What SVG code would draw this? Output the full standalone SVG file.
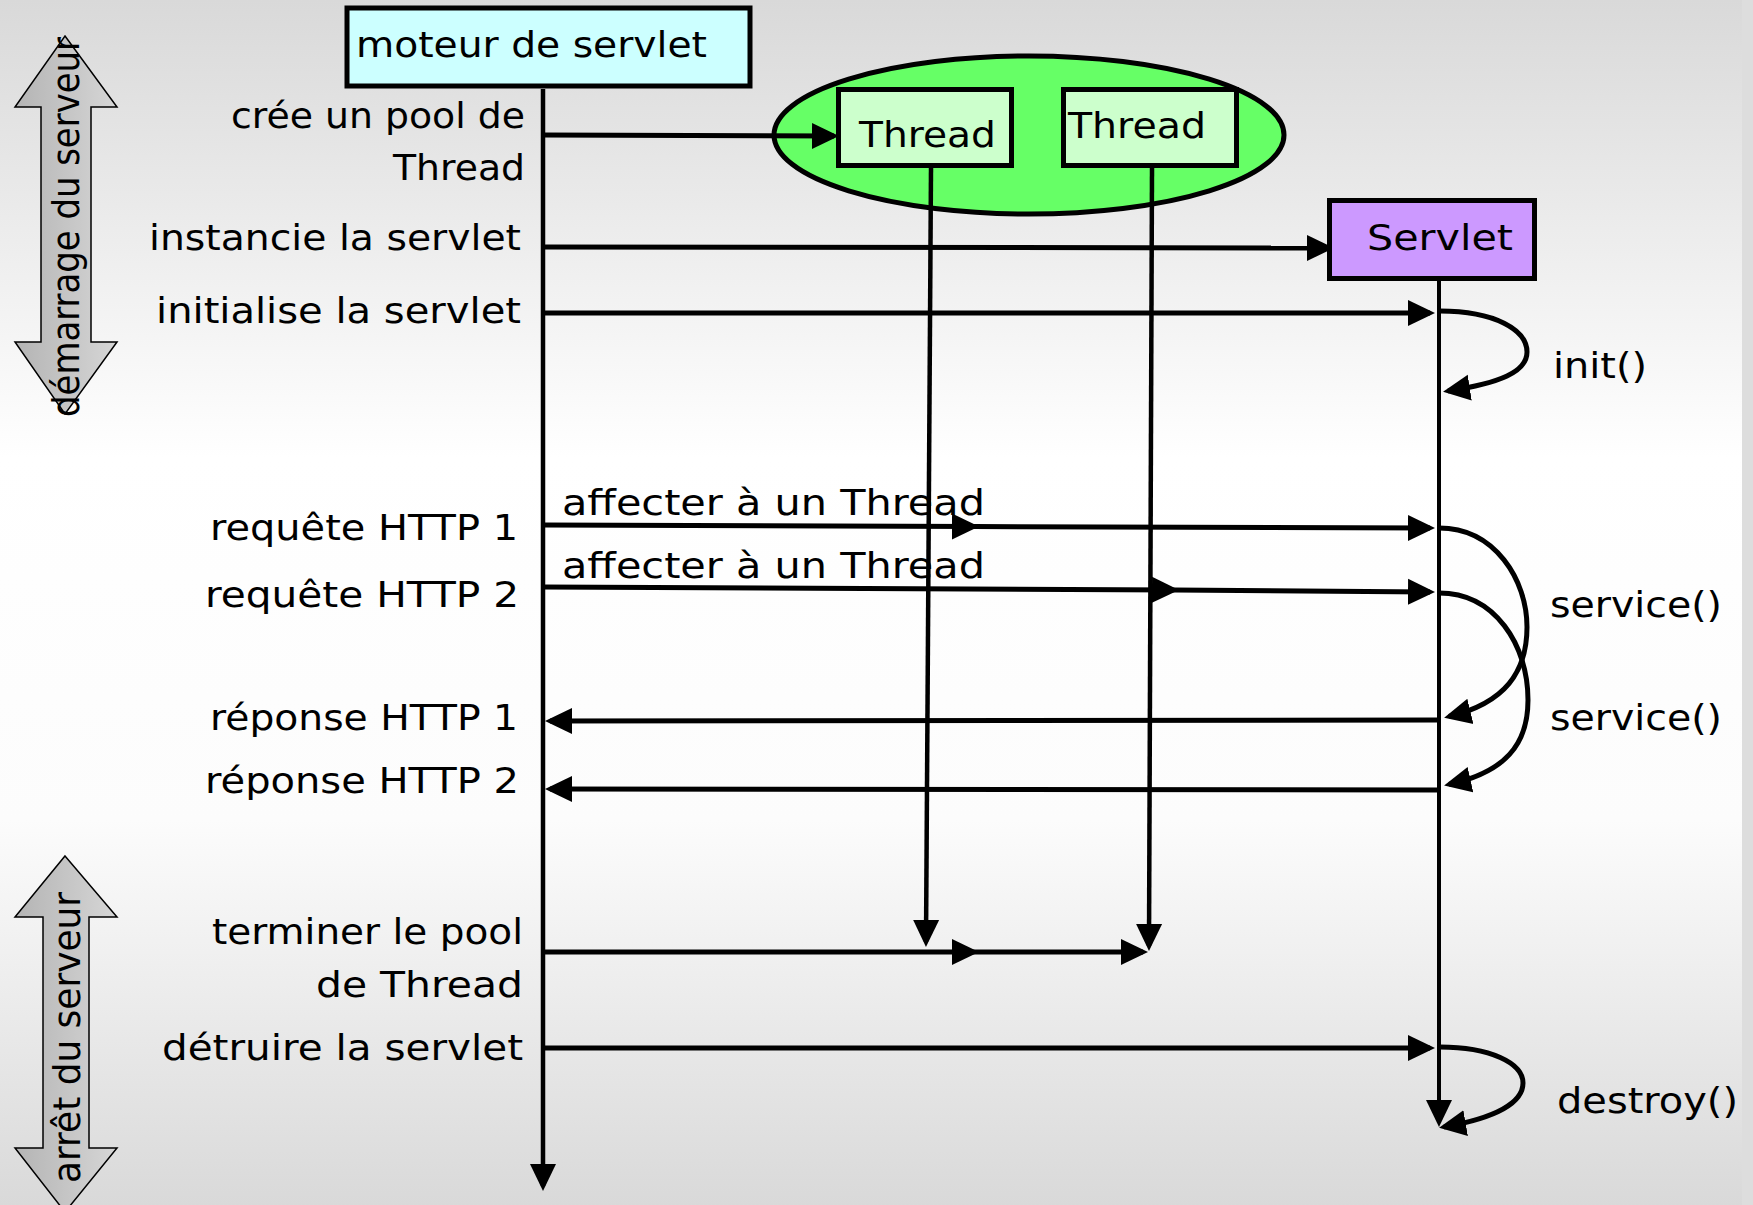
<svg xmlns="http://www.w3.org/2000/svg" width="1753" height="1205" viewBox="0 0 1753 1205">
  <defs>
    <linearGradient id="bg" x1="0" y1="0" x2="0" y2="1">
      <stop offset="0" stop-color="#d9d9d9"/>
      <stop offset="0.38" stop-color="#ffffff"/>
      <stop offset="0.68" stop-color="#fcfcfc"/>
      <stop offset="1" stop-color="#d9d9d9"/>
    </linearGradient>
    <linearGradient id="phaseFill" x1="0" y1="0" x2="1" y2="0">
      <stop offset="0" stop-color="#b4b4b4"/>
      <stop offset="1" stop-color="#d6d6d6"/>
    </linearGradient>
    <marker id="ah" markerUnits="userSpaceOnUse" markerWidth="28" markerHeight="28" viewBox="0 0 28 28" refX="22" refY="14" orient="auto">
      <path d="M0,1 L27,14 L0,27 Z" fill="#000"/>
    </marker>
    <style>
      .lbl { font-family: "DejaVu Sans", "Liberation Sans", sans-serif; font-size: 35px; fill: #000; }
      .phase-txt { font-family: "DejaVu Sans", "Liberation Sans", sans-serif; font-size: 38px; fill: #000; }
      .box { stroke: #000; stroke-width: 5; }
      .msg { fill: none; stroke: #000; stroke-width: 5; }
      .life { fill: none; stroke: #000; stroke-width: 4.5; }
      .loop { fill: none; stroke: #000; stroke-width: 5; }
      .phase { fill: url(#phaseFill); stroke: #000; stroke-width: 1.5; }
    </style>
  </defs>

  <!-- background -->
  <rect x="0" y="0" width="1753" height="1205" fill="url(#bg)"/>
  <rect x="1742" y="0" width="11" height="1205" fill="#dddddd"/>

  <!-- phase arrows on the left -->
  <g id="phase-demarrage">
    <polygon class="phase" points="65,36 117,107 91,107 91,342 117,342 65,414 15,342 41,342 41,107 15,107"/>
    <text class="phase-txt" transform="translate(79,417) rotate(-90)" textLength="380" lengthAdjust="spacingAndGlyphs">démarrage du serveur</text>
  </g>
  <g id="phase-arret">
    <polygon class="phase" points="65,856 117,917 89,917 89,1148 117,1148 65,1212 15,1148 43,1148 43,917 15,917"/>
    <text class="phase-txt" transform="translate(80,1183) rotate(-90)" textLength="291" lengthAdjust="spacingAndGlyphs">arrêt du serveur</text>
  </g>

  <!-- thread pool -->
  <g id="pool">
    <ellipse cx="1029" cy="135" rx="255" ry="79" fill="#66ff66" class="box"/>
  </g>

  <!-- connectors: lifelines, messages, self calls -->
  <g id="connectors">
    <path class="life" d="M543 89 L543 1186" marker-end="url(#ah)"/>
    <path class="life" d="M931 168 L926 942" marker-end="url(#ah)"/>
    <path class="life" d="M1152 168 L1149 946" marker-end="url(#ah)"/>
    <path class="life" style="stroke-width:4" d="M1439 280 L1439 1122" marker-end="url(#ah)"/>

    <path class="msg" d="M543 135 L834 136" marker-end="url(#ah)"/>
    <path class="msg" d="M543 247 L1329 248" marker-end="url(#ah)"/>
    <path class="msg" d="M543 313 L1430 313" marker-end="url(#ah)"/>

    <path class="msg" d="M543 525 L974 526.5 L1430 528" marker-mid="url(#ah)" marker-end="url(#ah)"/>
    <path class="msg" d="M543 587 L1174 590 L1430 592" marker-mid="url(#ah)" marker-end="url(#ah)"/>
    <path class="msg" d="M1439 720 L550 721" marker-end="url(#ah)"/>
    <path class="msg" d="M1439 790 L550 789" marker-end="url(#ah)"/>

    <path class="msg" d="M543 952 L974 952 L1143 952" marker-mid="url(#ah)" marker-end="url(#ah)"/>
    <path class="msg" d="M543 1048 L1430 1048" marker-end="url(#ah)"/>

    <path class="loop" d="M1440 311 C1495 311 1527 330 1527 352 C1527 372 1500 383 1448 391" marker-end="url(#ah)"/>
    <path class="loop" d="M1439 528 C1495 528 1527 580 1527 627 C1527 672 1505 703 1449 716.5" marker-end="url(#ah)"/>
    <path class="loop" d="M1439 593 C1495 593 1528 645 1528 700 C1528 745 1505 772 1449 784.5" marker-end="url(#ah)"/>
    <path class="loop" d="M1440 1047 C1490 1047 1523 1063 1523 1083 C1523 1103 1495 1118 1444 1127" marker-end="url(#ah)"/>
  </g>

  <!-- nodes -->
  <g id="moteur">
    <rect class="box" x="347" y="8" width="403" height="78" fill="#ccffff"/>
    <text class="lbl" x="356" y="57" textLength="351" lengthAdjust="spacingAndGlyphs">moteur de servlet</text>
  </g>
  <g id="thread1">
    <rect class="box" x="838.5" y="89.5" width="173" height="76" fill="#ccffcc"/>
    <text class="lbl" x="859" y="147" textLength="137" lengthAdjust="spacingAndGlyphs">Thread</text>
  </g>
  <g id="thread2">
    <rect class="box" x="1063.5" y="89.5" width="173" height="76" fill="#ccffcc"/>
    <text class="lbl" x="1068" y="138" textLength="138" lengthAdjust="spacingAndGlyphs">Thread</text>
  </g>
  <g id="servlet">
    <rect class="box" x="1329.5" y="200.5" width="205" height="78" fill="#cc99ff"/>
    <text class="lbl" x="1367" y="250" textLength="146" lengthAdjust="spacingAndGlyphs">Servlet</text>
  </g>

  <!-- message and call labels -->
  <g id="labels">
    <text class="lbl" x="231" y="128" textLength="294" lengthAdjust="spacingAndGlyphs">crée un pool de</text>
    <text class="lbl" x="393" y="180" textLength="132" lengthAdjust="spacingAndGlyphs">Thread</text>
    <text class="lbl" x="149" y="250" textLength="372" lengthAdjust="spacingAndGlyphs">instancie la servlet</text>
    <text class="lbl" x="156" y="323" textLength="365" lengthAdjust="spacingAndGlyphs">initialise la servlet</text>
    <text class="lbl" x="1553" y="378" textLength="94" lengthAdjust="spacingAndGlyphs">init()</text>

    <text class="lbl" x="562" y="515" textLength="423" lengthAdjust="spacingAndGlyphs">affecter à un Thread</text>
    <text class="lbl" x="562" y="578" textLength="423" lengthAdjust="spacingAndGlyphs">affecter à un Thread</text>
    <text class="lbl" x="210" y="540" textLength="308" lengthAdjust="spacingAndGlyphs">requête HTTP 1</text>
    <text class="lbl" x="205" y="607" textLength="314" lengthAdjust="spacingAndGlyphs">requête HTTP 2</text>
    <text class="lbl" x="210" y="730" textLength="308" lengthAdjust="spacingAndGlyphs">réponse HTTP 1</text>
    <text class="lbl" x="205" y="793" textLength="314" lengthAdjust="spacingAndGlyphs">réponse HTTP 2</text>
    <text class="lbl" x="1550" y="617" textLength="172" lengthAdjust="spacingAndGlyphs">service()</text>
    <text class="lbl" x="1550" y="730" textLength="172" lengthAdjust="spacingAndGlyphs">service()</text>

    <text class="lbl" x="212" y="944" textLength="311" lengthAdjust="spacingAndGlyphs">terminer le pool</text>
    <text class="lbl" x="316" y="997" textLength="207" lengthAdjust="spacingAndGlyphs">de Thread</text>
    <text class="lbl" x="162" y="1060" textLength="361" lengthAdjust="spacingAndGlyphs">détruire la servlet</text>
    <text class="lbl" x="1557" y="1113" textLength="181" lengthAdjust="spacingAndGlyphs">destroy()</text>
  </g>
</svg>
